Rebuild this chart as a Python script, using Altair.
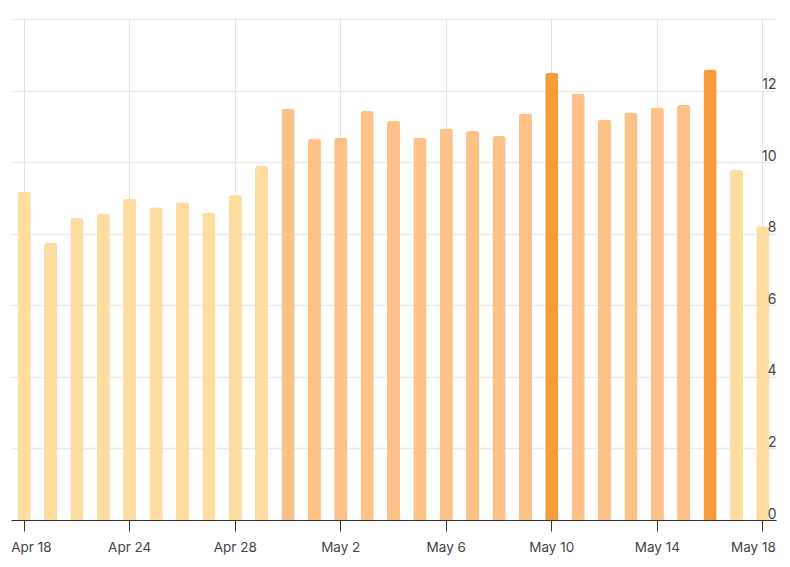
import altair as alt
import pandas as pd

dates = ["Apr 18", "Apr 21", "Apr 22", "Apr 23", "Apr 24", "Apr 25", "Apr 26", "Apr 27",
         "Apr 28", "Apr 29", "Apr 30", "May 1", "May 2", "May 3", "May 4", "May 5",
         "May 6", "May 7", "May 8", "May 9", "May 10", "May 11", "May 12", "May 13",
         "May 14", "May 15", "May 16", "May 17", "May 18"]
values = [9.18, 7.74, 8.44, 8.55, 8.98, 8.74, 8.88, 8.58, 9.08, 9.89,
          11.49, 10.65, 10.69, 11.43, 11.16, 10.69, 10.94, 10.87, 10.73, 11.36,
          12.50, 11.92, 11.19, 11.39, 11.53, 11.60, 12.59, 9.78, 8.21]
tick_dates = ["Apr 18", "Apr 24", "Apr 28", "May 2", "May 6", "May 10", "May 14", "May 18"]
grid_values = [0, 2, 4, 6, 8, 10, 12, 14]
label_values = [0, 2, 4, 6, 8, 10, 12]
thresholds = [10, 12]
colors = ["#FFDC9F", "#FEC288", "#F99B3A"]

df = pd.DataFrame({"date": dates, "value": values})

FONT = "Inter"

xenc = alt.X("date:O", sort=None, title=None,
             scale=alt.Scale(paddingInner=0.5, paddingOuter=0.25),
             axis=alt.Axis(values=tick_dates, labelAngle=0, grid=True,
                           gridColor="#E6E2E2", gridWidth=1,
                           domainColor="#333333", tickColor="#333333",
                           tickSize=11, labelPadding=9, labelFont=FONT,
                           labelFontSize=13.5, labelColor="#444444",
                           labelFlush=20, labelFlushOffset=13))

bars = alt.Chart(df).mark_bar(cornerRadiusTopLeft=3, cornerRadiusTopRight=3).encode(
    x=xenc,
    y=alt.Y("value:Q", title=None,
            scale=alt.Scale(domain=[0, 14], nice=False),
            axis=alt.Axis(orient="right", values=grid_values, labels=False,
                          ticks=False, domain=False, grid=True,
                          gridColor="#EEEAEA", gridWidth=1.5)),
    color=alt.Color("value:Q", legend=None,
                    scale=alt.Scale(type="threshold", domain=thresholds, range=colors)),
)

labels_layer = alt.Chart(df).mark_bar(opacity=0).encode(
    x=alt.X("date:O", sort=None, title=None,
            scale=alt.Scale(paddingInner=0.5, paddingOuter=0.25)),
    y=alt.Y("value:Q", title=None,
            scale=alt.Scale(domain=[0, 14], nice=False),
            axis=alt.Axis(orient="right", values=label_values, grid=False,
                          ticks=False, domain=False, labelAlign="right",
                          labelBaseline="alphabetic", labelOffset=-2,
                          labelPadding=0, labelFont=FONT, labelFontSize=14,
                          labelColor="#444444", zindex=1)),
)

chart = alt.layer(bars, labels_layer).resolve_axis(y="independent").properties(
    width=765, height=501,
    autosize=alt.AutoSizeParams(type="none"),
    padding={"left": 3, "top": 11, "right": 6, "bottom": 40},
).configure_view(stroke=None)

chart.save("out.html", embed_options={"renderer": "svg", "actions": False})
